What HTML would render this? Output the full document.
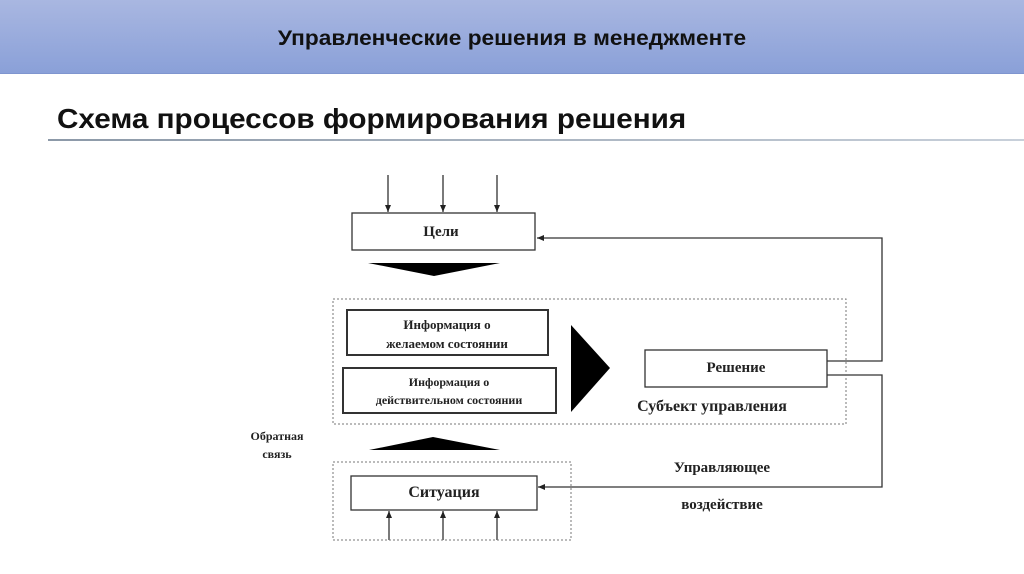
<!DOCTYPE html>
<html><head><meta charset="utf-8"><style>
body{margin:0;width:1024px;height:574px;overflow:hidden;background:#fff;position:relative;font-family:"Liberation Sans",sans-serif}
.bar{position:absolute;left:0;top:0;width:1024px;height:73px;background:linear-gradient(#a9b7e1,#8aa0d8);border-bottom:1px solid #7f95cf}
.bar div{position:absolute;left:0;width:1024px;top:27px;text-align:center;font-size:21px;font-weight:bold;color:#111;transform:scaleX(1.08)}
.sub{position:absolute;left:57px;top:103px;font-size:28px;font-weight:bold;color:#111;transform:scaleX(1.06);transform-origin:left}
.line{position:absolute;left:48px;top:139px;width:976px;height:2px;background:linear-gradient(90deg,#8c99a8,#c8d0da)}
svg text{font-family:"Liberation Serif",serif;font-weight:bold;fill:#222}
</style></head><body>
<div class="bar"><div>Управленческие решения в менеджменте</div></div>
<div class="sub">Схема процессов формирования решения</div>
<div class="line"></div>
<svg width="1024" height="574" style="position:absolute;left:0;top:0">
<defs><marker id="a" markerWidth="8" markerHeight="8" refX="7" refY="4" orient="auto" markerUnits="userSpaceOnUse"><path d="M0,1 L7,4 L0,7z" fill="#222"/></marker></defs>
<g stroke="#333" stroke-width="1.3" fill="none">
<line x1="388" y1="175" x2="388" y2="212" marker-end="url(#a)"/>
<line x1="443" y1="175" x2="443" y2="212" marker-end="url(#a)"/>
<line x1="497" y1="175" x2="497" y2="212" marker-end="url(#a)"/>
<line x1="389" y1="540" x2="389" y2="511" marker-end="url(#a)"/>
<line x1="443" y1="540" x2="443" y2="511" marker-end="url(#a)"/>
<line x1="497" y1="540" x2="497" y2="511" marker-end="url(#a)"/>
<rect x="352" y="213" width="183" height="37" fill="#fff"/>
<rect x="347" y="310" width="201" height="45" stroke-width="2"/>
<rect x="343" y="368" width="213" height="45" stroke-width="2"/>
<rect x="645" y="350" width="182" height="37"/>
<rect x="351" y="476" width="186" height="34"/>
<polyline points="827,361 882,361 882,238 537,238" marker-end="url(#a)"/>
<polyline points="827,375 882,375 882,487 538,487" marker-end="url(#a)"/>
</g>
<g stroke="#777" stroke-width="1" stroke-dasharray="2,2" fill="none">
<rect x="333" y="299" width="513" height="125"/>
<rect x="333" y="462" width="238" height="78"/>
</g>
<polygon points="368,263 500,263 434,276" fill="#000"/>
<polygon points="369,450 500,450 433,437" fill="#000"/>
<polygon points="571,325 610,368 571,412" fill="#000"/>
<text x="441" y="236" font-size="15" text-anchor="middle">Цели</text>
<text x="447" y="329" font-size="13" text-anchor="middle">Информация о</text>
<text x="447" y="348" font-size="13" text-anchor="middle">желаемом состоянии</text>
<text x="449" y="386" font-size="12" text-anchor="middle">Информация о</text>
<text x="449" y="404" font-size="12" text-anchor="middle">действительном состоянии</text>
<text x="736" y="372" font-size="15" text-anchor="middle">Решение</text>
<text x="712" y="411" font-size="16" text-anchor="middle">Субъект управления</text>
<text x="444" y="497" font-size="16" text-anchor="middle">Ситуация</text>
<text x="722" y="472" font-size="15" text-anchor="middle">Управляющее</text>
<text x="722" y="509" font-size="15" text-anchor="middle">воздействие</text>
<text x="277" y="440" font-size="12" text-anchor="middle">Обратная</text>
<text x="277" y="458" font-size="12" text-anchor="middle">связь</text>
</svg>
</body></html>
